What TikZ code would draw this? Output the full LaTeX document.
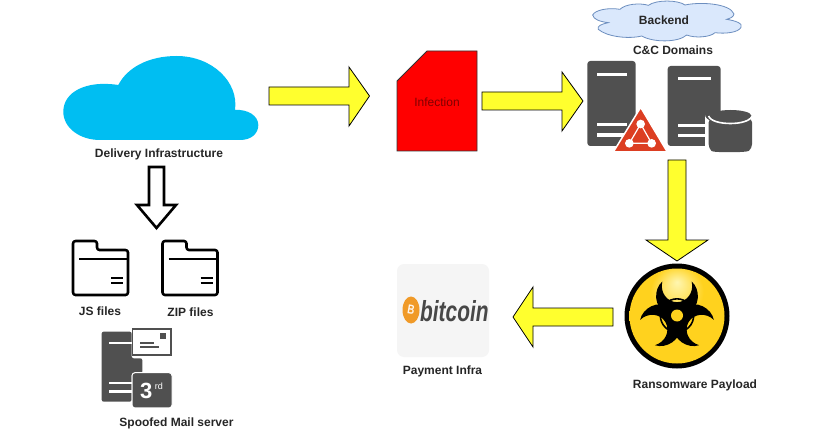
\documentclass[tikz,border=0pt]{standalone}
\usepackage{fontspec}
\setmainfont{Liberation Sans}
\definecolor{icongray}{HTML}{505050}
\definecolor{skyblue}{HTML}{00BEF2}
\definecolor{arrowyellow}{HTML}{FFFF2E}
\definecolor{triangred}{HTML}{DC3E22}
\definecolor{backfill}{HTML}{DAE8FC}
\definecolor{backline}{HTML}{6C8EBF}
\definecolor{biogold}{HTML}{FFD21E}
\definecolor{biohi}{HTML}{FFF6B0}
\definecolor{bioedge}{HTML}{C98A00}
\definecolor{btcorange}{HTML}{F09A28}
\pgfdeclareradialshading{bioshade}{\pgfpoint{0bp}{18bp}}{color(0bp)=(biohi); color(14bp)=(biogold); color(32bp)=(biogold); color(50bp)=(bioedge)}
\tikzset{
  lab/.style={font=\fontsize{12}{14}\selectfont\bfseries,text=black!85,inner sep=0pt},
  yarrow/.style={draw=black,line width=0.8pt,fill=arrowyellow,line join=miter},
  zoomed/.style={x=0.33333pt,y=-0.33333pt},
  folder/.style={draw=black,line width=2.6pt,line join=round,rounded corners=2.5pt,fill=white},
  bar/.style={draw=black,line width=2pt},
  whitebar/.style={fill=white,draw=none},
}
\newcommand{\folderpic}{%
  \draw[folder] (73,241) -- (97,241) -- (97,250) -- (128,250) -- (128,295) -- (73,295) -- cycle;
  \draw[bar] (79,259) -- (128,259);
  \draw[bar] (111,278) -- (123,278);
  \draw[bar] (111,283) -- (123,283);
}
\begin{document}
\begin{tikzpicture}[x=1pt,y=-1pt]
\useasboundingbox[fill=white] (0,0) rectangle (833,441);
% blue cloud
\fill[skyblue] (100,140) -- (240,140) .. controls (252,140) and (258.3,133) .. (258.3,125)
  .. controls (258.3,116) and (248,109) .. (235,110)
  .. controls (239,82) and (212,56) .. (176.7,56)
  .. controls (148,56) and (127,68) .. (118.3,85)
  .. controls (86,80) and (63.3,92) .. (63.3,111.7)
  .. controls (63.3,128) and (80,140) .. (100,140) -- cycle;
\node[lab] (delivery) at (159,154) {Delivery Infrastructure};
% arrows
\draw[yarrow] (269,87) -- (349,87) -- (349,67) -- (369.5,96) -- (349,126) -- (349,105) -- (269,105) -- cycle;
\draw[yarrow] (482,92) -- (562,92) -- (562,72) -- (583,101) -- (562,131) -- (562,110) -- (482,110) -- cycle;
\draw[yarrow] (668,160) -- (686,160) -- (686,240) -- (708,240) -- (677,261) -- (646,240) -- (668,240) -- cycle;
\draw[yarrow] (613,308) -- (533,308) -- (533,287) -- (513,317) -- (533,347) -- (533,326) -- (613,326) -- cycle;
\draw[black,line width=2.6pt,fill=white,line join=miter] (149,167) -- (164,167) -- (164,205) -- (176,205) -- (156.5,228) -- (137,205) -- (149,205) -- cycle;
% infection
\draw[draw=black!80,line width=0.8pt,fill=red] (427,51) -- (477,51) -- (477,151) -- (397,151) -- (397,81) -- cycle;
\node[font=\fontsize{12}{14}\selectfont,text=red!50!black,inner sep=0pt] (infection) at (437,102) {Infection};
% backend cloud
\begin{scope}[shift={(570,0)},zoomed]
\draw[draw=backline,line width=0.8pt,fill=backfill]
  (68,45) .. controls (75,30) and (115,22) .. (150,28)
  .. controls (165,12) and (210,8) .. (235,16)
  .. controls (260,-2) and (325,0) .. (345,15)
  .. controls (390,5) and (480,10) .. (492,42)
  .. controls (490,52) and (480,55) .. (470,58)
  .. controls (495,62) and (520,70) .. (513,82)
  .. controls (505,98) and (465,102) .. (435,98)
  .. controls (420,112) and (375,115) .. (350,105)
  .. controls (325,128) and (250,128) .. (215,108)
  .. controls (175,118) and (110,110) .. (85,88)
  .. controls (80,78) and (95,72) .. (115,68)
  .. controls (90,65) and (70,58) .. (68,45) -- cycle;
\end{scope}
\node[lab] (backend) at (664,20.5) {Backend};
\node[lab] (cc) at (673,50.5) {C\&C Domains};
% server 1
\begin{scope}[shift={(570,0)},zoomed]
\fill[icongray,rounded corners=3pt] (52,183) rectangle (197,438);
\fill[whitebar] (80,218) rectangle (170,227);
\fill[whitebar] (80,368) rectangle (170,378);
\fill[whitebar] (80,400) rectangle (170,410);
\fill[triangred,draw=white,line width=1.5pt,line join=round] (212,322) -- (292,456) -- (130,456) -- cycle;
\draw[white,line width=1.2pt] (212,372) -- (178,430) -- (245,430) -- cycle;
\fill[white] (212,372) circle (13);
\fill[white] (178,430) circle (13);
\fill[white] (245,430) circle (13);
% server 2
\fill[icongray,rounded corners=3pt] (293,198) rectangle (452,438);
\fill[whitebar] (325,232) rectangle (422,240);
\fill[whitebar] (325,372) rectangle (422,380);
\fill[whitebar] (325,402) rectangle (422,410);
% cylinder
\fill[white] (405,345) arc[start angle=180,end angle=0,x radius=73,y radius=28] -- (552,460) -- (405,460) -- cycle;
\fill[icongray,rounded corners=4pt] (416,355) -- (416,445) .. controls (430,458) and (530,458) .. (546,445) -- (546,355) -- cycle;
\draw[white,line width=1.6pt] (416,348) .. controls (425,378) and (537,378) .. (546,348);
\fill[icongray] (482,347) ellipse[x radius=62,y radius=17];
\end{scope}
% biohazard
\fill[black] (677,316) circle (52.5);
\shade[shading=bioshade] (677,316) circle (47.5);
\begin{scope}[shift={(677,315.5)},zoomed]
\foreach \a in {90,210,330}{
  \begin{scope}[rotate=\a-90]
    \fill[black] (-44,-102) .. controls (-70,-80) and (-72,-25) .. (-30,-5)
      .. controls (-10,5) and (10,5) .. (30,-5)
      .. controls (72,-25) and (70,-80) .. (44,-102)
      .. controls (52,-70) and (30,-40) .. (0,-40)
      .. controls (-30,-40) and (-52,-70) .. (-44,-102) -- cycle;
  \end{scope}
}
\draw[black,line width=1.6pt] (0,0) circle (50);
\fill[biogold] (0,0) circle (18);
\end{scope}
% bitcoin
\fill[black!4,rounded corners=7pt] (397,264) rectangle (489,357);
\fill[btcorange] (411,310) ellipse[x radius=8.5,y radius=13.5];
\node[inner sep=0pt,text=white!92!orange,font=\fontsize{13}{14}\selectfont\bfseries,rotate=-10,xscale=0.75] (btcb) at (411,310) {B};
\node[inner sep=0pt,text=black!72,font=\fontsize{29}{30}\selectfont\bfseries\itshape,xscale=0.72,anchor=west] (btc) at (420,311) {bitcoin};
\node[lab] (payment) at (442.5,371) {Payment Infra};
\node[lab] (ransom) at (695,385.5) {Ransomware Payload};
% folders
\folderpic
\begin{scope}[xshift=89.5pt]
\folderpic
\end{scope}
\node[lab] (js) at (100,311) {JS files};
\node[lab] (zip) at (190.5,312) {ZIP files};
% mail server
\begin{scope}[shift={(60,230)},zoomed]
\fill[icongray,rounded corners=2pt] (125,305) -- (215,305) -- (215,385) -- (247,385) -- (247,430) -- (215,430) -- (215,515) -- (125,515) -- cycle;
\fill[whitebar] (148,335) rectangle (215,343);
\fill[whitebar] (148,455) rectangle (215,463);
\fill[whitebar] (148,480) rectangle (215,488);
\draw[icongray,line width=1.5pt,fill=white] (218,297) rectangle (333,375);
\fill[icongray] (300,310) rectangle (318,328);
\fill[icongray] (240,336) rectangle (282,341);
\fill[icongray] (240,349) rectangle (298,354);
\fill[icongray,draw=white,line width=1pt,rounded corners=3pt] (216,428) rectangle (336,534);
\node[inner sep=0pt,text=white,font=\fontsize{22}{24}\selectfont\bfseries] (third) at (259,482) {3};
\node[inner sep=0pt,text=white,font=\fontsize{9}{10}\selectfont] (rd) at (297,470) {rd};
\end{scope}
\node[lab] (mail) at (176.5,423) {Spoofed Mail server};
\end{tikzpicture}
\end{document}
